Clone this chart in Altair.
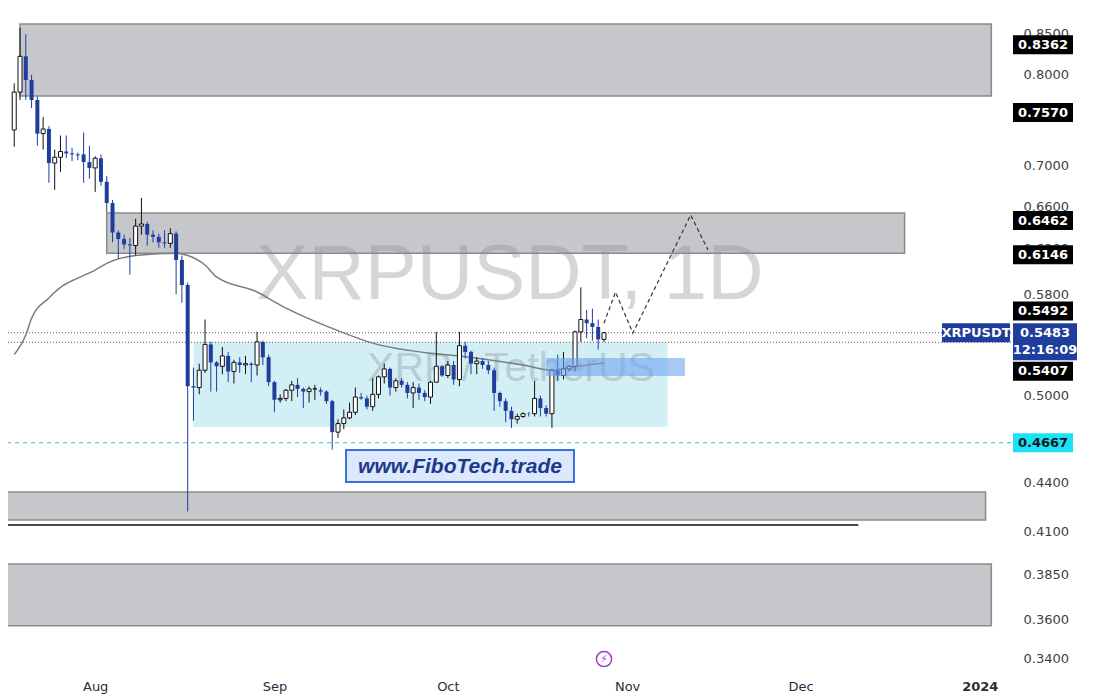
import altair as alt
import pandas as pd

# ---------------- data ----------------
dates = pd.date_range("2023-07-18", "2023-10-28", freq="D").strftime("%Y-%m-%d").tolist()
opens = [0.738, 0.780, 0.822, 0.794, 0.771, 0.734, 0.739, 0.703, 0.709, 0.715, 0.713, 0.712, 0.712, 0.704,
         0.698, 0.708, 0.684, 0.663, 0.635, 0.629, 0.624, 0.623, 0.641, 0.643, 0.633, 0.631, 0.626, 0.625,
         0.634, 0.610, 0.588, 0.507, 0.506, 0.519, 0.539, 0.525, 0.522, 0.530, 0.518, 0.525, 0.523, 0.524,
         0.523, 0.541, 0.529, 0.510, 0.497, 0.498, 0.504, 0.508, 0.505, 0.503, 0.505, 0.504, 0.503, 0.496,
         0.474, 0.480, 0.484, 0.488, 0.499, 0.498, 0.492, 0.501, 0.514, 0.520, 0.506, 0.511, 0.508, 0.502,
         0.506, 0.502, 0.499, 0.510, 0.522, 0.515, 0.523, 0.512, 0.538, 0.533, 0.524, 0.526, 0.523, 0.519,
         0.502, 0.496, 0.489, 0.483, 0.485, 0.487, 0.487, 0.498, 0.491, 0.487, 0.519, 0.515, 0.520, 0.522,
         0.549, 0.559, 0.556, 0.553, 0.543]
highs = [0.790, 0.857, 0.849, 0.800, 0.775, 0.752, 0.742, 0.717, 0.732, 0.732, 0.719, 0.714, 0.735, 0.721,
         0.710, 0.712, 0.690, 0.666, 0.637, 0.633, 0.630, 0.648, 0.668, 0.645, 0.637, 0.634, 0.637, 0.639,
         0.636, 0.614, 0.590, 0.521, 0.524, 0.559, 0.541, 0.526, 0.537, 0.533, 0.527, 0.529, 0.530, 0.525,
         0.549, 0.542, 0.531, 0.511, 0.501, 0.505, 0.511, 0.513, 0.506, 0.507, 0.508, 0.506, 0.504, 0.497,
         0.483, 0.490, 0.495, 0.506, 0.502, 0.500, 0.513, 0.515, 0.524, 0.521, 0.513, 0.513, 0.510, 0.510,
         0.509, 0.504, 0.511, 0.549, 0.523, 0.526, 0.526, 0.549, 0.541, 0.534, 0.529, 0.528, 0.526, 0.521,
         0.503, 0.498, 0.492, 0.487, 0.488, 0.488, 0.511, 0.500, 0.493, 0.520, 0.531, 0.533, 0.523, 0.550,
         0.586, 0.567, 0.568, 0.559, 0.549]
lows = [0.720, 0.771, 0.771, 0.762, 0.721, 0.717, 0.683, 0.676, 0.694, 0.708, 0.705, 0.706, 0.683, 0.687,
        0.674, 0.680, 0.654, 0.626, 0.611, 0.620, 0.597, 0.614, 0.633, 0.623, 0.626, 0.621, 0.621, 0.621,
        0.580, 0.573, 0.422, 0.482, 0.501, 0.517, 0.503, 0.503, 0.516, 0.510, 0.509, 0.517, 0.516, 0.510,
        0.515, 0.523, 0.507, 0.488, 0.495, 0.496, 0.496, 0.499, 0.491, 0.495, 0.497, 0.500, 0.494, 0.462,
        0.470, 0.476, 0.483, 0.486, 0.497, 0.490, 0.489, 0.498, 0.509, 0.500, 0.503, 0.506, 0.498, 0.491,
        0.497, 0.496, 0.494, 0.510, 0.514, 0.513, 0.508, 0.507, 0.528, 0.516, 0.516, 0.520, 0.516, 0.489,
        0.492, 0.481, 0.477, 0.480, 0.484, 0.485, 0.485, 0.485, 0.485, 0.477, 0.511, 0.512, 0.518, 0.518,
        0.541, 0.544, 0.542, 0.535, 0.541]
closes = [0.780, 0.822, 0.794, 0.771, 0.734, 0.739, 0.703, 0.709, 0.715, 0.713, 0.712, 0.711, 0.704, 0.698,
          0.708, 0.684, 0.663, 0.635, 0.629, 0.624, 0.623, 0.641, 0.643, 0.633, 0.631, 0.626, 0.625, 0.634,
          0.610, 0.588, 0.507, 0.506, 0.519, 0.539, 0.525, 0.522, 0.530, 0.518, 0.525, 0.523, 0.524, 0.523,
          0.541, 0.529, 0.510, 0.497, 0.498, 0.504, 0.508, 0.505, 0.503, 0.505, 0.505, 0.503, 0.496, 0.474,
          0.480, 0.484, 0.488, 0.499, 0.498, 0.492, 0.501, 0.514, 0.520, 0.506, 0.511, 0.508, 0.502, 0.506,
          0.502, 0.499, 0.510, 0.522, 0.515, 0.523, 0.512, 0.538, 0.533, 0.524, 0.526, 0.523, 0.519, 0.502,
          0.496, 0.489, 0.483, 0.485, 0.487, 0.4868, 0.498, 0.491, 0.487, 0.519, 0.515, 0.520, 0.522, 0.549,
          0.559, 0.556, 0.553, 0.543, 0.5483]

ma_dates = ["2023-07-18", "2023-07-20", "2023-07-21", "2023-07-24", "2023-07-26", "2023-07-29",
            "2023-08-01", "2023-08-03", "2023-08-08", "2023-08-15", "2023-08-17", "2023-08-20",
            "2023-08-22", "2023-08-29", "2023-09-02", "2023-09-12", "2023-09-18", "2023-09-28",
            "2023-10-03", "2023-10-08", "2023-10-14", "2023-10-19", "2023-10-22", "2023-10-28"]
ma_vals = [0.531, 0.5465, 0.560, 0.577, 0.586, 0.594, 0.601, 0.607, 0.614, 0.616, 0.614, 0.6055,
           0.595, 0.582, 0.571, 0.550, 0.540, 0.532, 0.530, 0.527, 0.523, 0.519, 0.521, 0.5245]

proj_dates = ["2023-10-28", "2023-10-30", "2023-11-02", "2023-11-12", "2023-11-15"]
proj_vals = [0.556, 0.582, 0.548, 0.6515, 0.619]

zone_start = ["2023-07-19", "2023-08-03", "2023-07-10", "2023-07-10"]
zone_end = ["2024-01-03", "2023-12-19", "2024-01-02", "2024-01-03"]
zone_top = [0.862, 0.6534, 0.4342, 0.3907]
zone_bottom = [0.7756, 0.616, 0.4168, 0.3569]

range_box = {"start": ["2023-08-18"], "end": ["2023-11-08"], "top": [0.5407], "bottom": [0.4776]}
blue_box = {"start": ["2023-10-18"], "end": ["2023-11-11"], "top": [0.5284], "bottom": [0.5146]}

support_line = {"start": ["2023-07-10"], "end": ["2023-12-11"], "price": [0.4137]}

y_ticks = [0.34, 0.36, 0.385, 0.41, 0.44, 0.50, 0.58, 0.62, 0.66, 0.70, 0.80, 0.85]
month_ticks = ["2023-08-01", "2023-09-01", "2023-10-01", "2023-11-01", "2023-12-01", "2024-01-01"]

black_tags = [0.8362, 0.7570, 0.6462, 0.6146]
tag_up = 0.5492
tag_down = 0.5407
last_price = 0.5483
last_time = "12:16:09"
cyan_level = 0.4667

# ---------------- scales ----------------
def ms(s):
    return int(pd.Timestamp(s, tz="UTC").value // 10**6)

px_per_day = 5.84
aug1 = pd.Timestamp("2023-08-01", tz="UTC")
x0 = int((aug1 - pd.Timedelta(days=83 / px_per_day)).value // 10**6)
x1 = int((aug1 + pd.Timedelta(days=920 / px_per_day)).value // 10**6)

W, H = 1003, 667
xscale = alt.Scale(type="utc", domain=[x0, x1])
yscale = alt.Scale(type="log", domain=[0.3321, 0.8823], nice=False)

BLUE = "#1f3d9c"
FONT = "DejaVu Sans"

xaxis = alt.Axis(values=[ms(m) for m in month_ticks], title=None, grid=False, ticks=False, domain=False,
                 labelExpr="utcmonth(datum.value) == 0 ? utcFormat(datum.value, '%Y') : utcFormat(datum.value, '%b')",
                 labelFontWeight=alt.condition("utcmonth(datum.value) == 0", alt.value("bold"), alt.value("normal")),
                 labelFont=FONT, labelFontSize=13, labelColor="#2a2e39", labelPadding=5)
yaxis = alt.Axis(orient="right", values=y_ticks, format=".4f", title=None, grid=False, ticks=False,
                 domain=False, labelFont=FONT, labelFontSize=13, labelColor="#3b3f48", labelPadding=12,
                 labelOverlap=False, labelBound=False)


def XF(field):
    return alt.X(field, scale=xscale, axis=xaxis)


def YF(field):
    return alt.Y(field, scale=yscale, axis=yaxis)


df = pd.DataFrame({"date": dates, "open": opens, "high": highs, "low": lows, "close": closes})
base = alt.Chart(df)

layers = []

# zones
zones = pd.DataFrame({"s": zone_start, "e": zone_end, "t": zone_top, "b": zone_bottom})
layers.append(alt.Chart(zones).mark_rect(fill="#c6c7ca", stroke="#8a8a8a", strokeWidth=1.5, clip=True).encode(
    x=XF("s:T"), x2="e:T", y=YF("t:Q"), y2="b:Q"))
rb = pd.DataFrame(range_box)
layers.append(alt.Chart(rb).mark_rect(fill="#d2eff6", clip=True).encode(
    x=XF("start:T"), x2="end:T", y=YF("top:Q"), y2="bottom:Q"))

# watermarks (translucent, over the boxes)
wm = alt.Chart(pd.DataFrame({"t": ["XRPUSDT, 1D"]})).mark_text(
    font="Liberation Sans", fontSize=78, color="#8c8f99", opacity=0.36, align="center", baseline="middle"
).encode(x=alt.value(502), y=alt.value(268), text="t:N")
wm2 = alt.Chart(pd.DataFrame({"t": ["XRP / TetherUS"]})).mark_text(
    font="Liberation Sans", fontSize=41, color="#8c8f99", opacity=0.36, align="center", baseline="middle"
).encode(x=alt.value(503), y=alt.value(361), text="t:N")
layers += [wm, wm2]

# lines
sl = pd.DataFrame(support_line)
layers.append(alt.Chart(sl).mark_rule(color="#111111", strokeWidth=1.5, clip=True).encode(
    x=XF("start:T"), x2="end:T", y=YF("price:Q")))
layers.append(alt.Chart(pd.DataFrame({"p": [cyan_level]})).mark_rule(
    color="#22c3d6", strokeWidth=1, strokeDash=[4, 4]).encode(y=YF("p:Q")))
layers.append(alt.Chart(pd.DataFrame({"p": [last_price, tag_down]})).mark_rule(
    color="#555555", strokeWidth=1, strokeDash=[1, 2]).encode(y=YF("p:Q")))

# moving average
ma = pd.DataFrame({"date": ma_dates, "v": ma_vals})
layers.append(alt.Chart(ma).mark_line(color="#7c7c7c", strokeWidth=1.5, interpolate="monotone", clip=True).encode(
    x=XF("date:T"), y=YF("v:Q")))

# candles
up = "datum.close >= datum.open"
dn = "datum.close < datum.open"
layers.append(base.transform_filter(up).mark_rule(color="#111111", strokeWidth=1, clip=True).encode(
    x=XF("date:T"), y=YF("low:Q"), y2="high:Q"))
layers.append(base.transform_filter(dn).mark_rule(color=BLUE, strokeWidth=1, clip=True).encode(
    x=XF("date:T"), y=YF("low:Q"), y2="high:Q"))
layers.append(base.transform_filter(up).mark_bar(size=4, fill="white", stroke="#111111", strokeWidth=1, clip=True).encode(
    x=XF("date:T"), y=YF("open:Q"), y2="close:Q"))
layers.append(base.transform_filter(dn).mark_bar(size=4, color=BLUE, clip=True).encode(
    x=XF("date:T"), y=YF("open:Q"), y2="close:Q"))

# blue highlight box (semi-transparent, above candles)
bb = pd.DataFrame(blue_box)
layers.append(alt.Chart(bb).mark_rect(fill="#6fa3ee", opacity=0.6, clip=True).encode(
    x=XF("start:T"), x2="end:T", y=YF("top:Q"), y2="bottom:Q"))

# projection path
pj = pd.DataFrame({"date": proj_dates, "v": proj_vals})
layers.append(alt.Chart(pj).mark_line(color="#333333", strokeWidth=1.2, strokeDash=[4, 3]).encode(
    x=XF("date:T"), y=YF("v:Q")))

# logo box
logo = pd.DataFrame({"t": ["www.FiboTech.trade"]})
layers.append(alt.Chart(logo).mark_rect(fill="#dce8fb", stroke="#3b6fd9", strokeWidth=2).encode(
    x=alt.value(338), x2=alt.value(566), y=alt.value(442), y2=alt.value(474)))
layers.append(alt.Chart(logo).mark_text(font="Liberation Sans", fontSize=21, fontWeight="bold", fontStyle="italic",
                                        color="#1c3a8c", align="center", baseline="middle").encode(
    x=alt.value(452), y=alt.value(459), text="t:N"))


# price tags on the right axis
def tag(prices, labels, fill, color, yoff, xc, w, h, box_off=None, with_box=True):
    d = pd.DataFrame({"p": prices, "l": labels})
    r = h / w
    path = f"M-1,{-r:.4f}L1,{-r:.4f}L1,{r:.4f}L-1,{r:.4f}Z"
    bo = yoff if box_off is None else box_off
    out = []
    if with_box:
        out.append(alt.Chart(d).mark_point(shape=path, filled=True, fill=fill, opacity=1, size=w * w, strokeWidth=0,
                                           yOffset=bo, clip=False).encode(x=alt.value(xc), y=YF("p:Q")))
    out.append(alt.Chart(d).mark_text(font=FONT, fontSize=13, fontWeight="bold", color=color, align="center",
                                      baseline="middle", yOffset=yoff, clip=False).encode(
        x=alt.value(xc), y=YF("p:Q"), text="l:N"))
    return out


layers += tag(black_tags, [f"{v:.4f}" for v in black_tags], "#000000", "#ffffff", 0, 1035, 60, 19)
layers += tag([tag_up], [f"{tag_up:.4f}"], "#000000", "#ffffff", -20.5, 1035, 60, 19)
layers += tag([tag_down], [f"{tag_down:.4f}"], "#000000", "#ffffff", 29, 1035, 60, 19)
layers += tag([cyan_level], [f"{cyan_level:.4f}"], "#19e3f5", "#131722", 0, 1035, 60, 19)
layers += tag([last_price], [f"{last_price:.4f}"], BLUE, "#ffffff", 0, 1037, 64, 37, box_off=9)
layers += tag([last_price], [last_time], BLUE, "#ffffff", 17.5, 1037, 64, 37, with_box=False)
layers += tag([last_price], ["XRPUSDT"], BLUE, "#ffffff", 0, 968, 68, 19)

# events icon
ev = pd.DataFrame({"t": ["\u26a1"]})
layers.append(alt.Chart(ev).mark_point(shape="circle", size=230, filled=False, stroke="#a53fc4", strokeWidth=1.5,
                                       opacity=1).encode(x=alt.value(596), y=alt.value(651)))
layers.append(alt.Chart(ev).mark_text(font=FONT, fontSize=10, color="#a53fc4", align="center", baseline="middle").encode(
    x=alt.value(596), y=alt.value(651), text="t:N"))

chart = alt.layer(*layers).properties(
    width=W, height=H,
    padding={"left": 0, "top": 0, "right": 81, "bottom": 25},
    autosize=alt.AutoSizeParams(type="none"),
    background="white",
).configure_view(strokeWidth=0)

chart.save("out.html", embed_options={"renderer": "svg", "actions": False})
